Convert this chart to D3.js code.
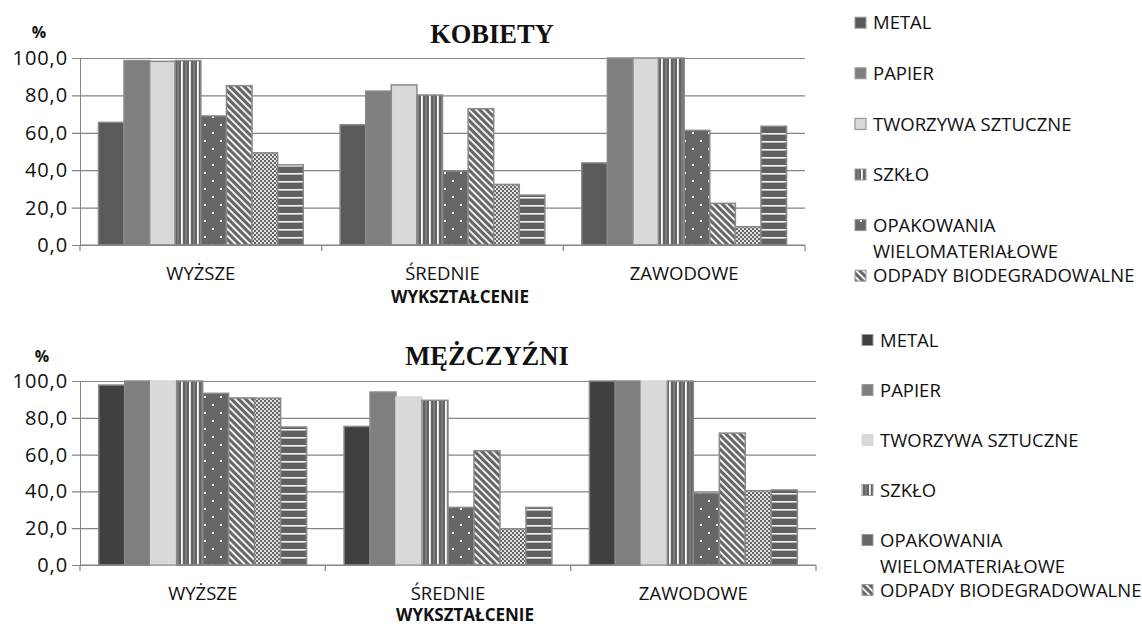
<!DOCTYPE html>
<html>
<head>
<meta charset="utf-8">
<script src="https://cdn.jsdelivr.net/npm/d3@7/dist/d3.min.js"></script>
<style>
  html, body { margin: 0; padding: 0; background: #fff; }
  svg { display: block; }
  text { font-family: "Open Sans", "Noto Sans", sans-serif; fill: #111; }
</style>
</head>
<body>
<svg id="chart" width="1142" height="626"></svg>
<script>
// ---------------- DATA ----------------
const categories = ["WYŻSZE", "ŚREDNIE", "ZAWODOWE"];
const seriesNames = ["METAL", "PAPIER", "TWORZYWA SZTUCZNE", "SZKŁO",
  "OPAKOWANIA WIELOMATERIAŁOWE", "ODPADY BIODEGRADOWALNE", "SERIA 7", "SERIA 8"];
// legend in the source is cut off after the 6th entry
const legendLines = [["METAL"], ["PAPIER"], ["TWORZYWA SZTUCZNE"], ["SZKŁO"],
  ["OPAKOWANIA", "WIELOMATERIAŁOWE"], ["ODPADY BIODEGRADOWALNE"]];
const yTicks = [0, 20, 40, 60, 80, 100];

// KOBIETY (women), values per category, in series order
const womenWyzsze   = [65.6, 98.6, 98.2, 98.6, 69.0, 85.2, 49.3, 42.9];
const womenSrednie  = [64.3, 82.3, 85.6, 80.2, 39.6, 72.9, 32.4, 26.7];
const womenZawodowe = [43.9, 100.0, 100.0, 100.0, 61.3, 22.3, 9.8, 63.5];
// MĘŻCZYŹNI (men)
const menWyzsze   = [97.8, 100.0, 100.0, 100.0, 93.3, 90.8, 90.7, 75.0];
const menSrednie  = [75.3, 94.0, 91.3, 89.5, 31.3, 62.1, 19.7, 31.3];
const menZawodowe = [100.0, 100.0, 100.0, 100.0, 39.1, 71.7, 40.4, 40.8];

// ---------------- DRAWING ----------------
const svg = d3.select("#chart");
const defs = svg.append("defs");
const fmt = d3.formatLocale({decimal: ",", thousands: " ", grouping: [3], currency: ["", ""]}).format(".1f");

function makePatterns(prefix, metalColor, plasticStroke) {
  let p = defs.append("pattern").attr("id", prefix + "glass").attr("patternUnits", "userSpaceOnUse")
    .attr("width", 8).attr("height", 8);
  p.append("rect").attr("width", 8).attr("height", 8).attr("fill", "#646464");
  p.append("rect").attr("x", 1).attr("width", 2).attr("height", 8).attr("fill", "#7a7a7a");
  p.append("rect").attr("x", 5).attr("width", 1.8).attr("height", 8).attr("fill", "#ffffff");
  p = defs.append("pattern").attr("id", prefix + "dots").attr("patternUnits", "userSpaceOnUse")
    .attr("width", 16).attr("height", 16);
  p.append("rect").attr("width", 16).attr("height", 16).attr("fill", "#666666");
  p.append("rect").attr("x", 4).attr("y", 4).attr("width", 2).attr("height", 2).attr("fill", "#f4f4f4");
  p.append("rect").attr("x", 12).attr("y", 12).attr("width", 2).attr("height", 2).attr("fill", "#f4f4f4");
  p = defs.append("pattern").attr("id", prefix + "diag").attr("patternUnits", "userSpaceOnUse")
    .attr("width", 5).attr("height", 5).attr("patternTransform", "rotate(-45)");
  p.append("rect").attr("width", 5).attr("height", 5).attr("fill", "#eeeeee");
  p.append("rect").attr("width", 3).attr("height", 5).attr("fill", "#666666");
  p = defs.append("pattern").attr("id", prefix + "check").attr("patternUnits", "userSpaceOnUse")
    .attr("width", 4).attr("height", 4);
  p.append("rect").attr("width", 4).attr("height", 4).attr("fill", "#e2e2e2");
  p.append("rect").attr("width", 2).attr("height", 2).attr("fill", "#666666");
  p.append("rect").attr("x", 2).attr("y", 2).attr("width", 2).attr("height", 2).attr("fill", "#666666");
  p = defs.append("pattern").attr("id", prefix + "horiz").attr("patternUnits", "userSpaceOnUse")
    .attr("width", 8).attr("height", 8);
  p.append("rect").attr("width", 8).attr("height", 8).attr("fill", "#606060");
  p.append("rect").attr("y", 5).attr("width", 8).attr("height", 1.6).attr("fill", "#f4f4f4");

  return {
    fills: [metalColor, "#7f7f7f", "#d9d9d9", `url(#${prefix}glass)`, `url(#${prefix}dots)`,
            `url(#${prefix}diag)`, `url(#${prefix}check)`, `url(#${prefix}horiz)`],
    strokes: ["#8a8a8a", "#8a8a8a", plasticStroke, "#8a8a8a", "#8a8a8a", "#8a8a8a", "#8a8a8a", "#8a8a8a"]
  };
}

function drawChart(cfg) {
  const pal = makePatterns(cfg.prefix, cfg.metal, cfg.plasticStroke);
  const g = svg.append("g");
  const x = d3.scaleBand().domain(categories).range([cfg.left, cfg.right]).paddingInner(0).paddingOuter(0);
  const xi = d3.scaleBand().domain(d3.range(seriesNames.length)).range([0, x.bandwidth()])
    .paddingInner(0).paddingOuter(0.72);
  const y = d3.scaleLinear().domain([0, 100]).range([cfg.bottom, cfg.top]);

  const ya = g.append("g").attr("transform", `translate(${cfg.left},0)`)
    .call(d3.axisLeft(y).tickValues(yTicks).tickFormat(fmt)
      .tickSize(-(cfg.right - cfg.left)).tickSizeOuter(0).tickPadding(12));
  ya.select(".domain").attr("stroke", "#858585");
  ya.selectAll(".tick line").attr("x1", -8).attr("stroke", "#858585").attr("stroke-width", 1.2);
  ya.selectAll(".tick text").attr("font-size", 20).attr("letter-spacing", 0.9).attr("fill", "#111")
    .attr("font-family", "'Open Sans', sans-serif");

  const data = cfg.values;
  categories.forEach((c, ci) => {
    g.append("g").selectAll("rect").data(data[ci]).join("rect")
      .attr("x", (d, i) => x(c) + xi(i))
      .attr("y", d => y(d))
      .attr("width", xi.bandwidth())
      .attr("height", d => y(0) - y(d))
      .attr("fill", (d, i) => pal.fills[i])
      .attr("stroke", (d, i) => pal.strokes[i])
      .attr("stroke-width", 1.5);
  });

  g.append("line").attr("x1", cfg.left).attr("x2", cfg.right)
    .attr("y1", y(0)).attr("y2", y(0)).attr("stroke", "#858585").attr("stroke-width", 1.2);
  const bounds = categories.map(c => x(c)).concat([x(categories[categories.length - 1]) + x.bandwidth()]);
  g.selectAll(".xt").data(bounds).join("line")
    .attr("x1", d => d).attr("x2", d => d).attr("y1", y(0)).attr("y2", y(0) + 6)
    .attr("stroke", "#858585").attr("stroke-width", 1.2);
  g.selectAll(".xl").data(categories).join("text")
    .attr("x", d => x(d) + x.bandwidth() / 2).attr("y", y(0) + 28.5).attr("dy", "0.36em")
    .attr("text-anchor", "middle").attr("font-size", 18.5).text(d => d);

  g.append("text").attr("x", cfg.xTitle[0]).attr("y", cfg.xTitle[1]).attr("dy", "0.36em")
    .attr("text-anchor", "middle").attr("font-size", 17).attr("font-weight", "bold").text("WYKSZTAŁCENIE");
  g.append("text").attr("x", cfg.pct[0]).attr("y", cfg.pct[1]).attr("dy", "0.36em")
    .attr("text-anchor", "middle").attr("font-size", 16).attr("font-weight", "bold").text("%");
  g.append("text").attr("x", cfg.title[0]).attr("y", cfg.title[1])
    .attr("text-anchor", "middle").attr("font-size", 26.5).attr("font-weight", "bold")
    .style("font-family", "'Liberation Serif', 'Times New Roman', serif").text(cfg.name);

  legendLines.forEach((lines, i) => {
    const cy = cfg.legY + i * cfg.legStep;
    g.append("rect").attr("x", cfg.legX).attr("y", cy - 5.5).attr("width", 11).attr("height", 11)
      .attr("fill", pal.fills[i]).attr("stroke", i === 2 ? cfg.plasticStroke : "#9a9a9a").attr("stroke-width", 1);
    lines.forEach((ln, li) => {
      g.append("text").attr("x", cfg.legX + 18).attr("y", cy + li * 26).attr("dy", "0.357em")
        .attr("font-size", 18.5).text(ln);
    });
  });
}

drawChart({
  prefix: "w", name: "KOBIETY", metal: "#5a5a5a", plasticStroke: "#8a8a8a",
  left: 80, right: 805, top: 58, bottom: 245,
  values: [womenWyzsze, womenSrednie, womenZawodowe],
  title: [492, 43], xTitle: [460, 297], pct: [39, 32],
  legX: 855, legY: 22.7, legStep: 50.6
});
drawChart({
  prefix: "m", name: "MĘŻCZYŹNI", metal: "#404040", plasticStroke: "#d9d9d9",
  left: 80, right: 816, top: 381, bottom: 565,
  values: [menWyzsze, menSrednie, menZawodowe],
  title: [487, 365], xTitle: [465, 615], pct: [42, 356],
  legX: 862, legY: 340, legStep: 50
});
</script>
</body>
</html>
